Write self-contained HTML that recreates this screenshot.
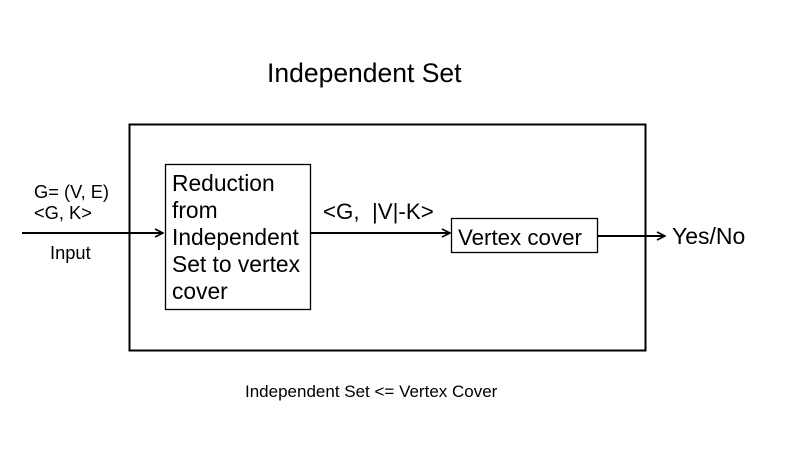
<!DOCTYPE html>
<html><head><style>body{margin:0;background:#fff}svg{display:block}</style></head><body>
<svg width="786" height="451" viewBox="0 0 786 451" xmlns="http://www.w3.org/2000/svg" font-family="Liberation Sans, sans-serif" fill="#000">
<defs><marker id="a" markerWidth="10" markerHeight="10" refX="9" refY="5" orient="auto" markerUnits="userSpaceOnUse"><path d="M1,1 L9,5 L1,9" fill="none" stroke="#000" stroke-width="1.6"/></marker></defs>
<text x="267" y="82" font-size="26.5">Independent Set</text>
<rect x="129.5" y="124.5" width="516" height="226" fill="none" stroke="#000" stroke-width="2"/>
<rect x="165.5" y="164.5" width="145" height="145" fill="#fff" stroke="#000" stroke-width="1.3"/>
<rect x="451.5" y="218.5" width="146" height="34" fill="#fff" stroke="#000" stroke-width="1.3"/>
<line x1="22" y1="233" x2="163" y2="233" stroke="#000" stroke-width="2" marker-end="url(#a)"/>
<line x1="311" y1="233" x2="450" y2="233" stroke="#000" stroke-width="2" marker-end="url(#a)"/>
<line x1="598" y1="236" x2="665" y2="236" stroke="#000" stroke-width="2" marker-end="url(#a)"/>
<text x="34" y="198" font-size="18.3">G= (V, E)</text>
<text x="34" y="219" font-size="18.3">&lt;G, K&gt;</text>
<text x="50" y="259" font-size="18.3">Input</text>
<g font-size="22.8"><text x="172" y="191">Reduction</text><text x="172" y="218">from</text><text x="172" y="245">Independent</text><text x="172" y="272">Set to vertex</text><text x="172" y="299">cover</text></g>
<text x="323" y="219" font-size="22.3" xml:space="preserve">&lt;G,  |V|-K&gt;</text>
<text x="458" y="245" font-size="22.3">Vertex cover</text>
<text x="672" y="244" font-size="23">Yes/No</text>
<text x="245" y="397" font-size="17">Independent Set &lt;= Vertex Cover</text>
</svg>
</body></html>
